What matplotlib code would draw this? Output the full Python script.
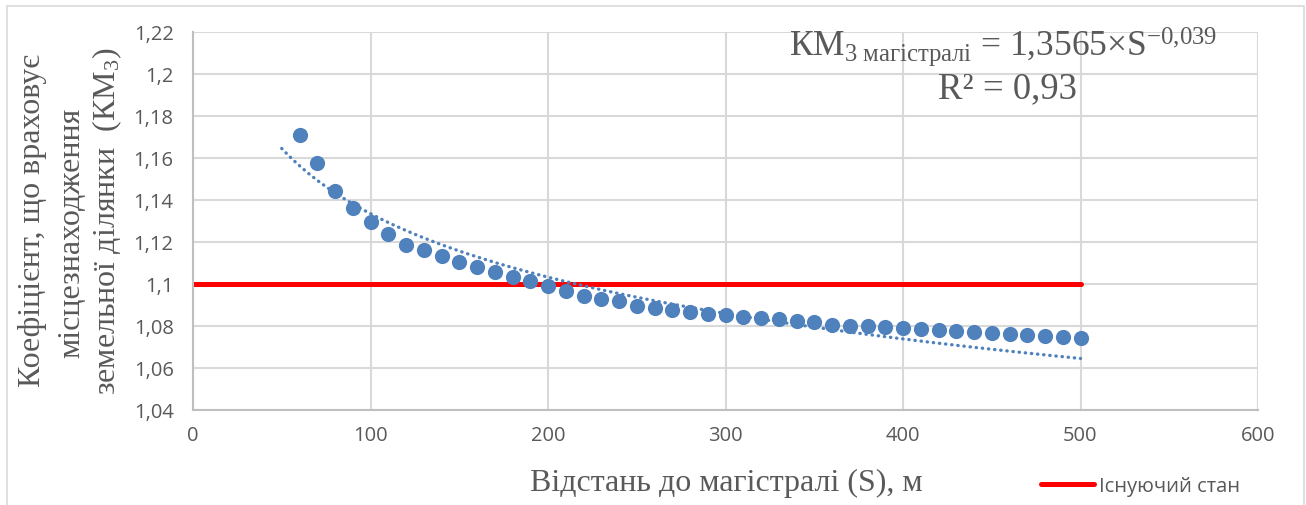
import matplotlib
matplotlib.use("Agg")
import matplotlib.pyplot as plt
import numpy as np
from matplotlib.ticker import FuncFormatter, MultipleLocator
from matplotlib.patches import Rectangle

# distance to main road, m
distance = list(range(60, 510, 10))
# coefficient KM3
coef = [1.1708, 1.1575, 1.1444, 1.1360, 1.1294, 1.1238, 1.1186, 1.1163, 1.1132, 1.1103,
        1.1079, 1.1056, 1.1032, 1.1014, 1.0989, 1.0967, 1.0941, 1.0927, 1.0921, 1.0897,
        1.0884, 1.0878, 1.0865, 1.0857, 1.0852, 1.0844, 1.0836, 1.0833, 1.0825, 1.0817,
        1.0805, 1.0801, 1.0798, 1.0794, 1.0790, 1.0786, 1.0781, 1.0775, 1.0770, 1.0767,
        1.0762, 1.0757, 1.0754, 1.0746, 1.0741]
# existing state line
existing_x = [0, 500]
existing_y = [1.1, 1.1]
# power trendline as given in the chart's equation
trend_a = 1.3565
trend_b = -0.039
trend_range = [50, 500]

blue = '#4f81bd'
gray_text = '#595959'

plt.rcParams['mathtext.fontset'] = 'custom'
plt.rcParams['mathtext.rm'] = 'Liberation Serif'
plt.rcParams['mathtext.it'] = 'Liberation Serif:italic'

fig = plt.figure(figsize=(13.06, 5.06), dpi=100)
ax = fig.add_axes([193 / 1306, 1 - 411 / 506, (1258 - 193) / 1306, (411 - 33) / 506])

s_fit = np.linspace(trend_range[0], trend_range[1], 200)
ax.plot(s_fit, trend_a * s_fit ** trend_b, linestyle=(0, (0.1, 1.75)), color=blue,
        linewidth=2.4, dash_capstyle='round', zorder=3)

ax.plot(existing_x, existing_y, color='#ff0000', linewidth=3.6, solid_capstyle='round',
        zorder=2, label='Існуючий стан')
ax.scatter(distance, coef, s=120, color=blue, zorder=4, linewidths=0)

ax.set_xlim(0, 600)
ax.set_ylim(1.04, 1.22)
ax.xaxis.set_major_locator(MultipleLocator(100))
ax.yaxis.set_major_locator(MultipleLocator(0.02))
ax.yaxis.set_major_formatter(FuncFormatter(lambda v, p: f'{v:.2f}'.rstrip('0').replace('.', ',')))
ax.grid(True, color='#d9d9d9', linewidth=1.5)
ax.set_axisbelow(True)
for sp in ['top', 'right']:
    ax.spines[sp].set_visible(False)
for sp in ['left', 'bottom']:
    ax.spines[sp].set_color('#bfbfbf')
    ax.spines[sp].set_linewidth(1.5)
ax.tick_params(length=0, labelsize=14.5, labelcolor=gray_text)
ax.tick_params(axis='y', pad=14)
ax.tick_params(axis='x', pad=11)
for lab in ax.get_xticklabels() + ax.get_yticklabels():
    lab.set_fontfamily('Open Sans')

# axis titles
fig.text(726 / 1306, 1 - 483 / 506, 'Відстань до магістралі (S), м', family='Liberation Serif',
         fontsize=23, color=gray_text, ha='center', va='center')
fig.text(33 / 1306, 1 - 221 / 506, 'Коефіцієнт, що враховує', family='Liberation Serif',
         fontsize=23, color=gray_text, ha='center', va='center', rotation=90)
fig.text(72 / 1306, 1 - 233 / 506, 'місцезнаходження', family='Liberation Serif',
         fontsize=23, color=gray_text, ha='center', va='center', rotation=90)
fig.text(107 / 1306, 1 - 221 / 506, 'земельної ділянки  (КМ$_3$)', family='Liberation Serif',
         fontsize=23, color=gray_text, ha='center', va='center', rotation=90)

# equation
fig.text(1003 / 1306, 1 - 56 / 506,
         r'КМ$_{\mathrm{3\ магістралі}}$ = 1,3565×S$^{\mathrm{-0{,}039}}$',
         family='Liberation Serif', fontsize=25.5, color=gray_text, ha='center', va='baseline')
fig.text(1007 / 1306, 1 - 98 / 506, 'R² = 0,93', family='Liberation Serif',
         fontsize=26.5, color=gray_text, ha='center', va='baseline')

leg = fig.legend(loc='center left', bbox_to_anchor=(1031 / 1306, 1 - 487 / 506), frameon=False,
                 handlelength=2.65, handletextpad=0.25, borderpad=0,
                 prop={'family': 'Open Sans', 'size': 14.5})
for t in leg.get_texts():
    t.set_color(gray_text)

fig.patches.append(Rectangle((7 / 1306, -0.01), 1297 / 1306, 1 - 7 / 506 + 0.01,
                             transform=fig.transFigure, fill=False, edgecolor='#d9d9d9',
                             linewidth=1.2))

fig.savefig('out.png', dpi=100)
